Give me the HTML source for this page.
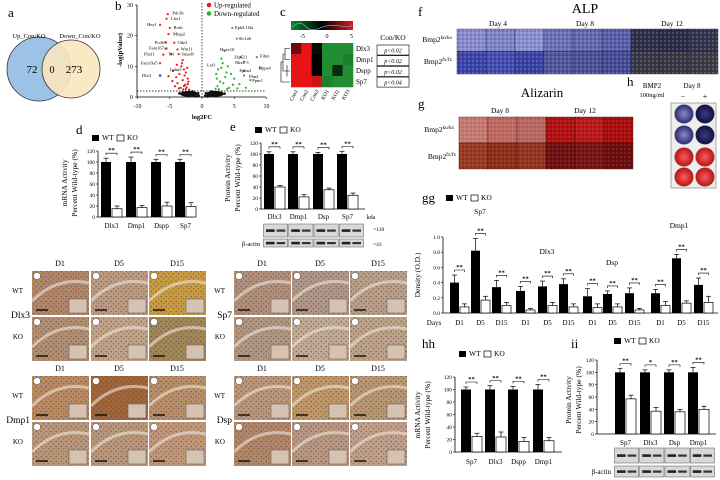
<!DOCTYPE html>
<html><head><meta charset="utf-8"><style>
html,body{margin:0;padding:0;background:#fff;}
svg{display:block;font-family:"Liberation Serif",serif;}
</style></head><body>
<svg id="fig" width="720" height="480" viewBox="0 0 720 480">
<defs>
<linearGradient id="cbar" x1="0" x2="1"><stop offset="0" stop-color="#0a8a2a"/><stop offset="0.5" stop-color="#000"/><stop offset="1" stop-color="#e01818"/></linearGradient>
<radialGradient id="wellBlue1"><stop offset="0" stop-color="#8a8ac8"/><stop offset="1" stop-color="#2a2a70"/></radialGradient>
<radialGradient id="wellBlue2"><stop offset="0" stop-color="#3a3a80"/><stop offset="1" stop-color="#101040"/></radialGradient>
<radialGradient id="wellRed"><stop offset="0" stop-color="#f06060"/><stop offset="1" stop-color="#c01010"/></radialGradient>
<pattern id="cells" width="5" height="5" patternUnits="userSpaceOnUse">
<circle cx="1.2" cy="1.5" r="0.8" fill="rgba(70,50,110,0.55)"/><circle cx="3.6" cy="3.8" r="0.7" fill="rgba(120,40,20,0.5)"/>
</pattern>
<pattern id="speck" width="4" height="4" patternUnits="userSpaceOnUse">
<circle cx="1" cy="1" r="0.7" fill="rgba(255,255,255,0.35)"/><circle cx="3" cy="3" r="0.7" fill="rgba(0,0,40,0.3)"/>
</pattern>
</defs>
<g id="root"></g>
</svg>
<script>
// ---------- DATA ----------
const vennLabels = ["Up_Con/KO","Down_Con/KO"];
const vennCounts = [72, 0, 273];
const volRedX = [-5.3,-5.5,-6.5,-5,-5.2,-5.6,-4.3,-5.5,-3.8,-6,-4.8,-3.6,-6.5,-3,-4.5,-3.2,-2.8,-3.5,-4,-2.5,-3,-2.2,-3.8,-2.6,-4.2,-2.1,-3.3,-2.9,-2.4,-3.6,-2,-2.7,-4.6,-2.3,-3.1,-5.2,-2.5,-3.9,-2.2,-2.8];
const volRedY = [27,25.5,23.5,22.5,20.5,17.7,17.7,15.8,15.5,13.8,14,14,11,12,8.5,10,9,7.5,6.5,8,5.5,6,4.5,4,3.5,5,3,2.5,3.2,2.8,2.4,7,5.2,9.5,11,6.8,2.6,10.5,4.2,3.6];
const volGreenX = [4.7,5.4,3.5,8.5,3,6,6.5,9,3.2,6.5,6.5,7.5,4,2.5,3.8,2.2,5,4.5,2.8,3.3,5.8,2.4,4.2,3.6,2.1,6.8,3,4.8,2.6,5.5,3.9,2.3];
const volGreenY = [22.5,19,15,13,12.5,13,11.5,9.5,11,8.5,7,5.5,10,9,8,7.5,6,7.5,5,4.5,4.2,3.5,3,6.5,2.7,3,9.5,4,2.5,2.8,2.6,6];
const volBlackX = [-3,-2.5,-2,-1.5,-1,-0.5,0.5,1,1.5,2,2.5,3,-1.8,-1.2,-0.8,0.8,1.2,1.8,-2.8,2.8,-3.5,3.5,-2.2,2.2,-1.5,1.5,-0.6,0.6];
const volBlackY = [1.5,1.2,1.6,1,0.8,0.4,0.4,0.8,1,1.5,1.2,1.4,0.5,0.3,0.2,0.2,0.3,0.5,0.7,0.7,1.2,1.1,0.3,0.3,1.8,1.8,1.2,1.2];
const volXTicks = [-10,-5,0,5,10];
const volYTicks = [0,10,20,30];
const heatRows = ["Dlx3","Dmp1","Dspp","Sp7"];
const heatCols = ["Con1","Con2","Con3","KO1","KO2","KO3"];
const heatVals = [[3,6,-0.5,-5,-5,-5],[6,6,0,-5,-5,-4.5],[6,6,0,-5,-1.5,-5],[6,6,5.5,-4.5,-5,-5]];
const heatP = ["p<0.02","p<0.02","p<0.02","p<0.04"];
const dCats = ["Dlx3","Dmp1","Dspp","Sp7"];
const dWT = [100,100,100,100]; const dWTerr = [7,9,5,5];
const dKO = [15,17,20,19]; const dKOerr = [5,4,7,7];
const eCats = ["Dlx3","Dmp1","Dsp","Sp7"];
const eWT = [100,100,100,100]; const eWTerr = [4,4,3,5];
const eKO = [40,22,35,25]; const eKOerr = [3,4,3,4];
const ggCats = ["D1","D5","D15","D1","D5","D15","D1","D5","D15","D1","D5","D15"];
const ggGroups = ["Sp7","Dlx3","Dsp","Dmp1"];
const ggWT = [0.40,0.82,0.34,0.29,0.35,0.38,0.22,0.25,0.26,0.26,0.72,0.37];
const ggWTerr = [0.10,0.16,0.09,0.06,0.07,0.07,0.10,0.04,0.07,0.05,0.05,0.09];
const ggKO = [0.08,0.17,0.10,0.04,0.10,0.08,0.07,0.08,0.04,0.10,0.13,0.14];
const ggKOerr = [0.04,0.05,0.04,0.02,0.04,0.04,0.05,0.04,0.02,0.05,0.03,0.08];
const ggTicks = [0,0.2,0.4,0.6,0.8,1.0];
const hhCats = ["Sp7","Dlx3","Dspp","Dmp1"];
const hhWT = [100,100,100,100]; const hhWTerr = [4,6,5,8];
const hhKO = [25,24,17,18]; const hhKOerr = [5,8,6,5];
const iiCats = ["Sp7","Dlx3","Dsp","Dmp1"];
const iiWT = [100,100,100,100]; const iiWTerr = [6,4,4,8];
const iiKO = [57,37,36,40]; const iiKOerr = [6,6,4,5];
const iiStars = ["**","*","**","**"];
const pctTicks = [0,20,40,60,80,100,120];

// ---------- HELPERS ----------
const NS="http://www.w3.org/2000/svg";
const root=document.getElementById('root');
function mk(tag,attrs,parent){const e=document.createElementNS(NS,tag);for(const k in attrs)e.setAttribute(k,attrs[k]);(parent||root).appendChild(e);return e;}
function txt(x,y,s,size,parent,anchor,extra){const t=mk('text',Object.assign({x:x,y:y,'font-size':size,'text-anchor':anchor||'middle',fill:'#000'},extra||{}),parent);t.textContent=s;return t;}

[["a",8,17],["b",115,10],["c",280,16],["d",76,134],["e",230,131],["f",418,16],["g",418,108],["h",627,86],["gg",422,202],["hh",422,348],["ii",571,348]].forEach(p=>{
  const t=txt(p[1],p[2],p[0],13,root,'start');
  
  
});

// ---------- VENN ----------
const vg=mk('g',{});


const c1=mk('circle',{cx:39,cy:69,r:32,fill:'#9cc3e6',stroke:'#333','stroke-width':0.8},vg);


const c2=mk('circle',{cx:71,cy:69,r:29,fill:'#fbe6bf','fill-opacity':0.9,stroke:'#333','stroke-width':0.8},vg);


txt(29,38,vennLabels[0],6.5,vg); txt(80,38,vennLabels[1],6.5,vg);
txt(32,73,vennCounts[0],11,vg); txt(52,73,vennCounts[1],10,vg); txt(74,73,vennCounts[2],11,vg);

// ---------- VOLCANO ----------
const vx=v=>202+v*6.45, vy=v=>97-v*3.07;
const vol=mk('g',{});


mk('line',{x1:137,y1:5,x2:137,y2:97,stroke:'#000','stroke-width':0.8},vol);
mk('line',{x1:137,y1:97,x2:266,y2:97,stroke:'#000','stroke-width':0.8},vol);
volXTicks.forEach(t=>{mk('line',{x1:vx(t),y1:97,x2:vx(t),y2:99,stroke:'#000','stroke-width':0.6},vol);txt(vx(t),108,t,6,vol);});
volYTicks.forEach(t=>{mk('line',{x1:135,y1:vy(t),x2:137,y2:vy(t),stroke:'#000','stroke-width':0.6},vol);txt(133,vy(t)+2,t,6,vol,'end');});
mk('line',{x1:202,y1:3,x2:202,y2:97,stroke:'#000','stroke-width':0.7,'stroke-dasharray':'1.5,1.5'},vol);
mk('line',{x1:137,y1:91,x2:266,y2:91,stroke:'#000','stroke-width':0.7,'stroke-dasharray':'1.5,1.5'},vol);
txt(202,119,"log2FC",6.5,vol,'middle',{'font-weight':'bold'});
txt(0,0,"-log(pValue)",6.5,vol,'middle',{transform:'translate(122,50) rotate(-90)','font-weight':'bold'});
mk('ellipse',{cx:vx(-2),cy:vy(1),rx:9,ry:3,fill:'#111'},vol);
mk('ellipse',{cx:vx(2),cy:vy(1),rx:9,ry:3,fill:'#111'},vol);
volBlackX.forEach((x,i)=>{const p=mk('circle',{cx:vx(x),cy:vy(volBlackY[i]),r:1.3,fill:'#111'},vol);
  
  });
volRedX.forEach((x,i)=>{const p=mk('circle',{cx:vx(x),cy:vy(volRedY[i]),r:1.1,fill:'#e02020'},vol);
  
  });
volGreenX.forEach((x,i)=>{const p=mk('circle',{cx:vx(x),cy:vy(volGreenY[i]),r:1.1,fill:'#30b030'},vol);
  
  });
mk('circle',{cx:vx(-6.5),cy:vy(7),r:1.3,fill:'#3050c0'},vol);
[["Pdc3b",-4.6,27.3],["Lhx1",-4.8,25.5],["Hey1",-8.5,23.6],["Rorb",-4.4,22.6],["Mfap2",-4.5,20.6],["Pcdh7",-7.3,17.8],["Odz3",-3.8,17.8],["Fam167a",-8.2,15.9],["Wnt11",-3.3,15.6],["Fbxl1",-9,14],["Tef",-5.2,14],["Smad9",-3.2,14],["Fam19a5",-9.5,11],["Lphn3",-5,9],["Dlx3",-9.3,7]].forEach(l=>txt(vx(l[1]),vy(l[2])+1.5,l[0],4.5,vol,'start'));
[["Epb4.1l4a",5.1,22.6],["Slc1a6",5.7,19],["Hoxc10",2.8,15.4],["Fibin",9,13.3],["Zfp521",5,13],["Lef1",0.8,10.5],["Nkx2-5",5.1,11.3],["Dppa4",8.8,9.5],["Epha4",5.8,8.6],["Fbn2",7.3,6.6],["Ppnr1",7.8,5.3]].forEach(l=>txt(vx(l[1]),vy(l[2])+1.5,l[0],4.5,vol,'start'));
const lg1=mk('circle',{cx:209,cy:5,r:2.3,fill:'#e02020'},vol);


txt(214,7.5,"Up-regulated",7,vol,'start');
const lg2=mk('circle',{cx:209,cy:13.5,r:2.3,fill:'#30b030'},vol);


txt(214,16,"Down-regulated",7,vol,'start');

// ---------- HEATMAP ----------
const hm=mk('g',{});


mk('rect',{x:291,y:21,width:62,height:9,fill:'url(#cbar)'},hm);
mk('path',{d:'M292,27 Q300,20 305,26 T320,28 T340,26 T352,25',fill:'none',stroke:'#6cf','stroke-width':0.6},hm);
[-5,0,5].forEach(t=>txt(327+t*4.9,38,t,6,hm));
function heatColor(v){const a=Math.min(1,Math.abs(v)/6);return v>=0?`rgb(${Math.round(230*a)},${Math.round(20*a)},${Math.round(20*a)})`:`rgb(${Math.round(40*a)},${Math.round(170*a)},${Math.round(60*a)})`;}
const cw=62/6, ch=44/4;
heatVals.forEach((row,r)=>row.forEach((v,c)=>{const cell=mk('rect',{x:291+c*cw,y:43+r*ch,width:cw+0.3,height:ch+0.3,fill:heatColor(v)},hm);
  
  }));
heatRows.forEach((n,r)=>txt(356,43+r*ch+ch/2+2.5,n,7,hm,'start'));
heatCols.forEach((n,c)=>txt(0,0,n,5.5,hm,'end',{transform:`translate(${291+c*cw+cw/2+2},${91}) rotate(-60)`}));
mk('path',{d:'M290,48.5 H285 V59.5 H290 M285,54 H283 V71 H290 M287,65 V76.5 M283,62 H281 V82 H290',fill:'none',stroke:'#000','stroke-width':0.6},hm);
txt(393,40,"Con/KO",7.5,hm);
heatP.forEach((p,r)=>{mk('rect',{x:377,y:45+r*10.7,width:32,height:10,fill:'none',stroke:'#000','stroke-width':0.6},hm);txt(393,52.5+r*10.7,p,6,hm,'middle',{'font-style':'italic'});});

// ---------- IMAGE PANELS ----------
txt(585,13,"ALP",14,root);
["Day 4","Day 8","Day 12"].forEach((d,i)=>txt(498+i*87,26,d,7.5,root));
const alpTop=["#8a8ccc","#7e84c6","#8a90d0","#6a70b8","#6268b0","#585ea8","#30304a","#2c2c48","#34344e"];
const alpBot=["#3c44a8","#444cb0","#3a42a4","#50569e","#4c529a","#464c96","#3a3a44","#383842","#3c3c46"];
alpTop.forEach((c,i)=>{const r=mk('rect',{x:457+i*29,y:29,width:29,height:22.5,fill:c,stroke:'#202040','stroke-width':0.4});
  
  
  mk('rect',{x:457+i*29,y:29,width:29,height:22.5,fill:'url(#speck)'});});
alpBot.forEach((c,i)=>{const r=mk('rect',{x:457+i*29,y:51.5,width:29,height:22.5,fill:c,stroke:'#202040','stroke-width':0.4});
  
  
  mk('rect',{x:457+i*29,y:51.5,width:29,height:22.5,fill:'url(#speck)'});});
function bmp(x,y,sup){const t=txt(x,y,"Bmp2",7.5,root,'end');const s=mk('tspan',{'font-size':5,dy:-3},t);s.textContent=sup;}
bmp(452,42,"ko/ko"); bmp(452,64,"fx/fx");
txt(542,97,"Alizarin",13,root);
txt(500,113,"Day 8",7.5,root); txt(585,113,"Day 12",7.5,root);
const alzTop=["#c87a70","#c06a60","#b86860","#b01010","#b81818","#a80c0c"];
const alzBot=["#983820","#8c3018","#943420","#701010","#781414","#6c0e0e"];
alzTop.forEach((c,i)=>{const r=mk('rect',{x:459+i*29,y:117,width:29,height:26,fill:c,stroke:'#400','stroke-width':0.4});
  
  
  mk('rect',{x:459+i*29,y:117,width:29,height:26,fill:'url(#speck)','fill-opacity':0.6});});
alzBot.forEach((c,i)=>{const r=mk('rect',{x:459+i*29,y:143,width:29,height:26,fill:c,stroke:'#400','stroke-width':0.4});
  
  
  mk('rect',{x:459+i*29,y:143,width:29,height:26,fill:'url(#speck)','fill-opacity':0.6});});
bmp(454,132,"ko/ko"); bmp(456,159,"fx/fx");
txt(652,88,"BMP2",7,root); txt(652,97,"100ng/ml",6.5,root); txt(692,88,"Day 8",7,root);
txt(683,99,"−",8,root); txt(705,99,"+",8,root);
const plate=mk('rect',{x:671,y:103,width:45,height:85,fill:'#eee',stroke:'#777','stroke-width':0.6});


[[684,114,'url(#wellBlue1)'],[705,114,'url(#wellBlue2)'],[684,135,'url(#wellBlue1)'],[705,135,'url(#wellBlue2)'],[684,157,'url(#wellRed)'],[705,157,'url(#wellRed)'],[684,177,'url(#wellRed)'],[705,177,'url(#wellRed)']].forEach(w=>{
  const c=mk('ellipse',{cx:w[0],cy:w[1],rx:9.5,ry:9.5,fill:w[2],stroke:'#999','stroke-width':0.5});
  
  });

// ---------- BAR CHART HELPER ----------
function legend(x,y,g){mk('rect',{x:x,y:y-5,width:7,height:6,fill:'#000'},g);txt(x+10,y,"WT",7.5,g,'start');mk('rect',{x:x+25,y:y-5,width:7,height:6,fill:'#fff',stroke:'#000','stroke-width':0.7},g);txt(x+35,y,"KO",7.5,g,'start');}
function errbar(g,cx,top,err,sy){const y1=sy(top+err);mk('line',{x1:cx,y1:y1,x2:cx,y2:sy(top),stroke:'#000','stroke-width':0.7},g);mk('line',{x1:cx-2.5,y1:y1,x2:cx+2.5,y2:y1,stroke:'#000','stroke-width':0.7},g);}
function bracket(g,x1,x2,y,s){mk('path',{d:`M${x1},${y+2} V${y} H${x2} V${y+2}`,fill:'none',stroke:'#000','stroke-width':0.6},g);txt((x1+x2)/2,y-1,s,6.5,g,'middle',{'font-weight':'bold'});}
function pctChart(o){
  const g=mk('g',{});
  
  
  const sy=v=>o.y0-(o.y0-o.y120)*v/120;
  mk('line',{x1:o.ax,y1:o.y120,x2:o.ax,y2:o.y0,stroke:'#000','stroke-width':0.8},g);
  mk('line',{x1:o.ax,y1:o.y0,x2:o.axEnd,y2:o.y0,stroke:'#000','stroke-width':0.8},g);
  pctTicks.forEach(t=>{mk('line',{x1:o.ax-2,y1:sy(t),x2:o.ax,y2:sy(t),stroke:'#000','stroke-width':0.6},g);txt(o.ax-3,sy(t)+2,t,5.5,g,'end');});
  o.cats.forEach((c,i)=>{
    const wx=o.wtX[i], kx=wx+o.bw+1;
    const b1=mk('rect',{x:wx,y:sy(o.wt[i]),width:o.bw,height:o.y0-sy(o.wt[i]),fill:'#000'},g);
    
    
    const b2=mk('rect',{x:kx,y:sy(o.ko[i]),width:o.bw,height:o.y0-sy(o.ko[i]),fill:'#fff',stroke:'#000','stroke-width':0.7},g);
    
    
    errbar(g,wx+o.bw/2,o.wt[i],o.wtErr[i],sy); errbar(g,kx+o.bw/2,o.ko[i],o.koErr[i],sy);
    bracket(g,wx+o.bw/2,kx+o.bw/2,sy(o.wt[i]+o.wtErr[i])-5,(o.stars||[])[i]||"**");
    txt(wx+o.bw+0.5,o.labY,c,7,g);
  });
  legend(o.legX,o.legY,g);
  txt(0,0,o.t1,7.5,g,'middle',{transform:`translate(${o.tx1},${o.ty}) rotate(-90)`});
  txt(0,0,"Percent Wild-type (%)",7.5,g,'middle',{transform:`translate(${o.tx1+10},${o.ty}) rotate(-90)`});
  return g;
}
pctChart({name:'chart-d-mrna',cats:dCats,wt:dWT,wtErr:dWTerr,ko:dKO,koErr:dKOerr,ax:98,axEnd:193,y0:217,y120:151,wtX:[101,126,151,175],bw:10,labY:228,legX:92,legY:140,t1:"mRNA Activity",tx1:67,ty:183});
pctChart({name:'chart-e-protein',cats:eCats,wt:eWT,wtErr:eWTerr,ko:eKO,koErr:eKOerr,ax:261,axEnd:365,y0:209,y120:143,wtX:[264,288,313,337],bw:10,labY:219,legX:255,legY:132,t1:"Protein Activity",tx1:230,ty:178});
txt(371,219,"kda",6,root);
pctChart({name:'chart-hh-mrna',cats:hhCats,wt:hhWT,wtErr:hhWTerr,ko:hhKO,koErr:hhKOerr,ax:455,axEnd:562,y0:452,y120:377,wtX:[461,485,508,533],bw:10,labY:464,legX:459,legY:356,t1:"mRNA Activity",tx1:420,ty:415});
pctChart({name:'chart-ii-protein',cats:iiCats,wt:iiWT,wtErr:iiWTerr,ko:iiKO,koErr:iiKOerr,stars:iiStars,ax:597,axEnd:716,y0:434,y120:360,wtX:[615,640,664,688],bw:10,labY:445,legX:614,legY:343,t1:"Protein Activity",tx1:571,ty:400});

function blots(x,y,w,h,n,g,name){for(let i=0;i<n;i++){const bx=x+i*w/n;const r=mk('rect',{x:bx+0.5,y:y,width:w/n-1,height:h,fill:'#d8d8d8',stroke:'#555','stroke-width':0.5});
  
  
  mk('rect',{x:bx+3,y:y+h/2-1.2,width:w/n/2-4,height:2.6,fill:'#222'});mk('rect',{x:bx+w/n/2+1,y:y+h/2-1,width:w/n/2-4,height:2.2,fill:'#333'});}}
blots(263,224,101,13,4,root,'western-blot-e');
blots(263,239,101,8,4,root,'western-blot-actin-e');
txt(260,246,"β-actin",6.5,root,'end'); txt(373,231,"=118",5.5,root,'start'); txt(373,246,"=43",5.5,root,'start');
blots(614,448,101,15,4,root,'western-blot-ii');
blots(614,466,101,11,4,root,'western-blot-actin-ii');
txt(611,474,"β-actin",7,root,'end');

// ---------- GG CHART ----------
const gg=mk('g',{});


const gy=v=>313-76*v;
const ggWTX=[450,471,492,516,538,559,583,603,625,651,672,694];
mk('line',{x1:443,y1:237,x2:443,y2:313,stroke:'#000','stroke-width':0.8},gg);
mk('line',{x1:443,y1:313,x2:718,y2:313,stroke:'#000','stroke-width':0.8},gg);
ggTicks.forEach(t=>{mk('line',{x1:441,y1:gy(t),x2:443,y2:gy(t),stroke:'#000','stroke-width':0.6},gg);txt(440,gy(t)+2,t.toFixed(1),5.5,gg,'end');});
ggCats.forEach((c,i)=>{
  const wx=ggWTX[i],kx=wx+10;
  const b1=mk('rect',{x:wx,y:gy(ggWT[i]),width:9,height:313-gy(ggWT[i]),fill:'#000'},gg);
  
  
  const b2=mk('rect',{x:kx,y:gy(ggKO[i]),width:9,height:313-gy(ggKO[i]),fill:'#fff',stroke:'#000','stroke-width':0.7},gg);
  
  
  errbar(gg,wx+4.5,ggWT[i],ggWTerr[i],gy); errbar(gg,kx+4.5,ggKO[i],ggKOerr[i],gy);
  bracket(gg,wx+4.5,kx+4.5,gy(ggWT[i]+ggWTerr[i])-5,"**");
  txt(wx+9.5,325,c,7,gg);
});
txt(434,325,"Days",7,gg);
[[480,214],[547,254],[612,265],[679,228]].forEach((p,i)=>txt(p[0],p[1],ggGroups[i],7.5,gg));
legend(446,200,gg);
txt(0,0,"Density (O.D.)",7.5,gg,'middle',{transform:'translate(420,275) rotate(-90)'});

// ---------- IHC PANELS ----------
function ihc(x0,y0,colsX,name,rowLabel,colors){
  const g=mk('g',{});
  
  
  ["D1","D5","D15"].forEach((d,i)=>txt(colsX[i]+28,y0-3,d,8,g));
  for(let r=0;r<2;r++)for(let c=0;c<3;c++){
    const px=colsX[c],py=y0+2+r*46;
    const p=mk('rect',{x:px,y:py,width:57,height:44,fill:colors[r*3+c]},g);
    
    
    mk('rect',{x:px,y:py,width:57,height:44,fill:'url(#cells)'},g);
    mk('path',{d:`M${px},${py+30} Q${px+25},${py+5} ${px+57},${py+12}`,fill:'none',stroke:'rgba(240,230,220,0.6)','stroke-width':3},g);
    mk('rect',{x:px+37,y:py+28,width:18,height:14,fill:'#d6c2b0',stroke:'#666','stroke-width':0.6},g);
    mk('line',{x1:px+4,y1:py+39,x2:px+16,y2:py+39,stroke:'#000','stroke-width':1.3},g);
    mk('circle',{cx:px+5,cy:py+5,r:3.5,fill:'#fff',stroke:'#333','stroke-width':0.4},g);
  }
  txt(colsX[0]-9,y0+24,"WT",7,g,'end'); txt(colsX[0]-9,y0+70,"KO",7,g,'end');
  txt(colsX[0]-2,y0+49,rowLabel,9.5,g,'end');
}
ihc(32,269,[32,91,149],'ihc-dlx3','Dlx3',["#b08868","#bc9c80","#c89c40","#b09070","#c0a488","#a08858"]);
ihc(234,269,[234,292,350],'ihc-sp7','Sp7',["#b09078","#b09888","#b8a088","#b09880","#c0ac94","#bca488"]);
ihc(32,374,[32,91,149],'ihc-dmp1','Dmp1',["#b88c60","#a06838","#b89068","#b89878","#b89878","#c09878"]);
ihc(234,374,[234,292,350],'ihc-dsp','Dsp',["#b89878","#c09868","#b89870","#b08868","#b89880","#c0a088"]);
</script>
</body></html>
